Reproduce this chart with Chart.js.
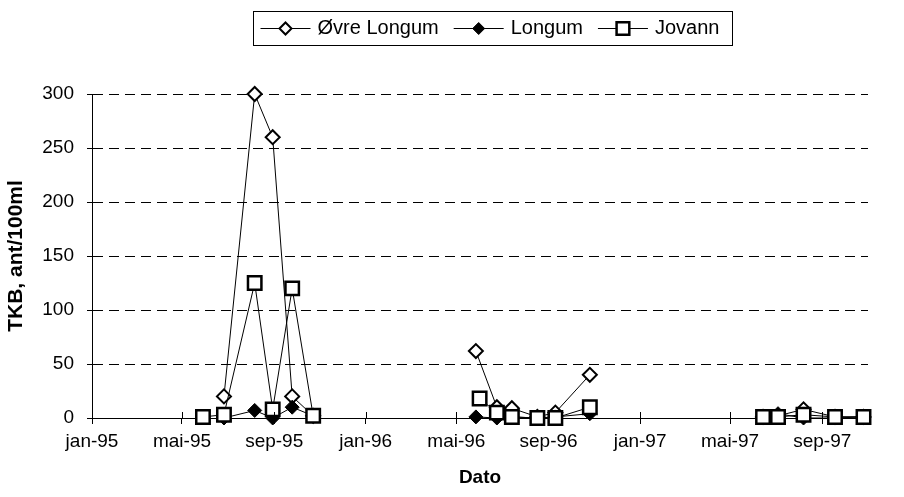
<!DOCTYPE html>
<html>
<head>
<meta charset="utf-8">
<script src="https://cdn.jsdelivr.net/npm/chart.js@4"></script>
<style>
  html, body { margin: 0; padding: 0; background: #fff; }
</style>
</head>
<body>
<canvas id="grafico" width="904" height="497"></canvas>
<script>
  // akse
  const xTickDates = ['1995-01-01', '1995-05-01', '1995-09-01', '1996-01-01', '1996-05-01',
                      '1996-09-01', '1997-01-01', '1997-05-01', '1997-09-01'];
  const xTickLabels = ['jan-95', 'mai-95', 'sep-95', 'jan-96', 'mai-96', 'sep-96', 'jan-97', 'mai-97', 'sep-97'];
  const xStart = '1995-01-01';
  const xSlutt = '1997-11-01';
  const yTicks = [0, 50, 100, 150, 200, 250, 300];

  // Øvre Longum (null = ingen prøver, linja brytes)
  const oevreDates = ['1995-06-26', '1995-08-06', '1995-08-30', '1995-09-25', '1995-10-23', '1996-01-01',
                      '1996-05-27', '1996-06-24', '1996-07-14', '1996-08-17', '1996-09-10', '1996-10-26', '1997-01-01',
                      '1997-06-14', '1997-07-04', '1997-08-07', '1997-09-18', '1997-10-26'];
  const oevreValues = [20, 300, 260, 20, 2, null, 62, 10, 9, 1, 5, 40, null, 1, 2, 8, 1, 1];

  // Longum
  const longumDates = ['1995-06-26', '1995-08-06', '1995-08-30', '1995-09-25', '1995-10-23', '1996-01-01',
                       '1996-05-27', '1996-06-24', '1996-07-14', '1996-08-17', '1996-09-10', '1996-10-26', '1997-01-01',
                       '1997-06-14', '1997-07-04', '1997-08-07', '1997-09-18', '1997-10-26'];
  const longumValues = [0, 7, 0, 10, 2, null, 1, 0, 1, 0, 1, 4, null, 0, 4, 0, 0, 1];

  // Jovann
  const jovannDates = ['1995-05-29', '1995-06-26', '1995-08-06', '1995-08-30', '1995-09-25', '1995-10-23', '1996-01-01',
                       '1996-06-01', '1996-06-24', '1996-07-14', '1996-08-17', '1996-09-10', '1996-10-26', '1997-01-01',
                       '1997-06-14', '1997-07-04', '1997-08-07', '1997-09-18', '1997-10-26'];
  const jovannValues = [1, 3, 125, 8, 120, 2, null, 18, 5, 1, 0, 0, 10, null, 1, 1, 3, 1, 1];

  const FONT = "'Liberation Sans', Arial, sans-serif";
  Chart.defaults.font.family = FONT;
  Chart.defaults.color = '#000';

  const dag0 = Date.UTC(1995, 0, 1);
  function dag(s) {
    const [y, m, d] = s.split('-').map(Number);
    return (Date.UTC(y, m - 1, d) - dag0) / 86400000;
  }
  function punkter(dates, values) {
    return dates.map((d, i) => ({ x: dag(d), y: values[i] }));
  }

  function tegnMerke(c, ds, x, y) {
    c.save();
    c.fillStyle = ds.pointBackgroundColor;
    c.strokeStyle = ds.pointBorderColor;
    c.lineWidth = ds.pointBorderWidth;
    c.beginPath();
    if (ds.pointStyle === 'rect') {
      const h = ds.pointRadius * Math.SQRT1_2;
      c.rect(x - h, y - h, 2 * h, 2 * h);
    } else {
      const r = ds.pointRadius;
      c.moveTo(x - r, y); c.lineTo(x, y - r); c.lineTo(x + r, y); c.lineTo(x, y + r); c.closePath();
    }
    c.fill();
    c.stroke();
    c.restore();
  }

  // legende med linje + merke, som i Excel
  const legende = {
    id: 'legende',
    afterDraw(chart) {
      const c = chart.ctx;
      const boks = { x: 253.5, y: 11.5, w: 479, h: 34 };
      c.save();
      c.strokeStyle = '#000';
      c.lineWidth = 1;
      c.strokeRect(boks.x, boks.y, boks.w, boks.h);
      c.font = '20px ' + FONT;
      c.textBaseline = 'middle';
      const linje = 50, gap = 7, mellom = 15;
      const dss = chart.data.datasets;
      let x = boks.x + 7;
      const y = boks.y + boks.h / 2;
      dss.forEach(ds => {
        c.strokeStyle = '#000';
        c.lineWidth = 1;
        c.beginPath();
        c.moveTo(x, y); c.lineTo(x + linje, y);
        c.stroke();
        tegnMerke(c, Object.assign({}, ds, { pointRadius: ds.pointStyle === 'rect' ? 9 : 6 }), x + linje / 2, y);
        x += linje + gap;
        c.fillStyle = '#000';
        c.fillText(ds.label, x, y);
        x += c.measureText(ds.label).width + mellom;
      });
      // kryssende tikkmerker på x-aksen
      const xs = chart.scales.x;
      const bunn = chart.chartArea.bottom;
      c.strokeStyle = '#000';
      c.lineWidth = 1;
      xs.ticks.forEach(t => {
        const px = Math.round(xs.getPixelForValue(t.value)) + 0.5;
        c.beginPath();
        c.moveTo(px, bunn - 6); c.lineTo(px, bunn);
        c.stroke();
      });
      c.restore();
    }
  };

  const ctx = document.getElementById('grafico').getContext('2d');
  const chart = new Chart(ctx, {
    type: 'line',
    data: {
      datasets: [
        {
          label: 'Øvre Longum',
          data: punkter(oevreDates, oevreValues),
          borderColor: '#000',
          borderWidth: 1,
          pointStyle: 'rectRot',
          pointRadius: 7,
          pointBackgroundColor: '#fff',
          pointBorderColor: '#000',
          pointBorderWidth: 2,
          spanGaps: false,
          order: 3,
          clip: false
        },
        {
          label: 'Longum',
          data: punkter(longumDates, longumValues),
          borderColor: '#000',
          borderWidth: 1,
          pointStyle: 'rectRot',
          pointRadius: 7,
          pointBackgroundColor: '#000',
          pointBorderColor: '#000',
          pointBorderWidth: 1,
          spanGaps: false,
          order: 2,
          clip: false
        },
        {
          label: 'Jovann',
          data: punkter(jovannDates, jovannValues),
          borderColor: '#000',
          borderWidth: 1,
          pointStyle: 'rect',
          pointRadius: 9.5,
          pointBackgroundColor: '#fff',
          pointBorderColor: '#000',
          pointBorderWidth: 2.5,
          spanGaps: false,
          order: 1,
          clip: false
        }
      ]
    },
    options: {
      responsive: false,
      animation: false,
      events: [],
      layout: { padding: { top: 94, right: 36, bottom: 0, left: 0 } },
      scales: {
        x: {
          type: 'linear',
          min: dag(xStart),
          max: dag(xSlutt),
          afterBuildTicks: s => { s.ticks = xTickDates.map(d => ({ value: dag(d) })); },
          afterFit: s => { s.height = 79; },
          ticks: {
            autoSkip: false,
            maxRotation: 0,
            padding: 6,
            font: { size: 19 },
            color: '#000',
            callback: (v, i) => xTickLabels[i]
          },
          grid: { drawOnChartArea: false, drawTicks: true, tickLength: 6, tickColor: '#000' },
          border: { display: true, color: '#000', width: 1 },
          title: {
            display: true,
            text: 'Dato',
            font: { size: 19, weight: 'bold' },
            color: '#000',
            padding: { top: 0, bottom: 8 }
          }
        },
        y: {
          min: 0,
          max: 300,
          afterBuildTicks: s => { s.ticks = yTicks.map(v => ({ value: v })); },
          afterFit: s => { s.width = 92; },
          ticks: { padding: 13, font: { size: 19 }, color: '#000' },
          grid: {
            color: c => (c.tick && c.tick.value === 0 ? 'rgba(0,0,0,0)' : '#000'),
            lineWidth: 1,
            drawTicks: true,
            tickLength: 5,
            tickColor: '#000',
            tickBorderDash: []
          },
          border: { display: true, color: '#000', width: 1, dash: [10, 6] },
          title: {
            display: true,
            text: 'TKB, ant/100ml',
            font: { size: 21, weight: 'bold' },
            color: '#000',
            padding: { top: 4, bottom: 0 }
          }
        }
      },
      plugins: {
        legend: { display: false },
        tooltip: { enabled: false }
      }
    },
    plugins: [legende]
  });
</script>
</body>
</html>
